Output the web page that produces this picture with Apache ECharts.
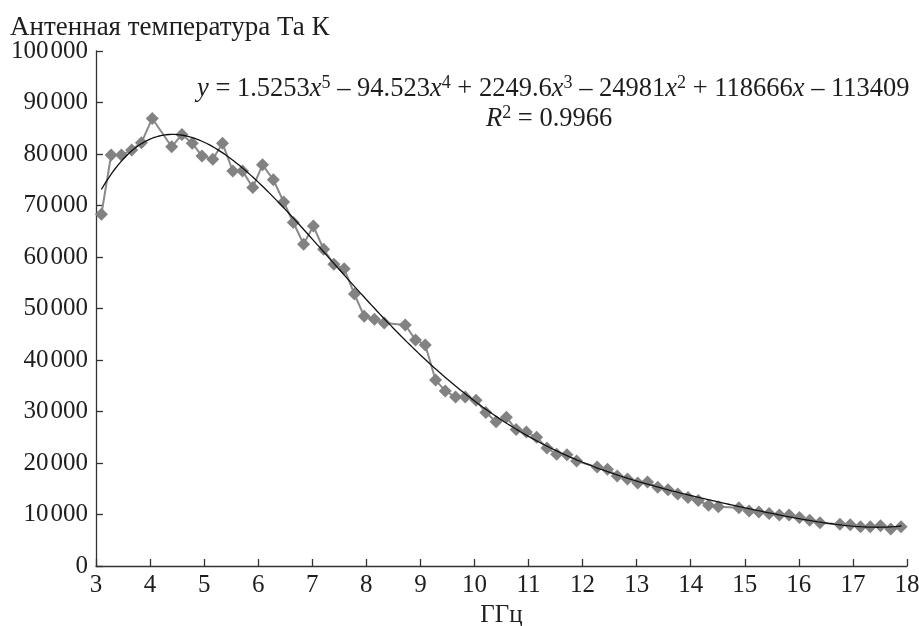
<!DOCTYPE html>
<html>
<head>
<meta charset="utf-8">
<script src="https://cdn.jsdelivr.net/npm/echarts@6/dist/echarts.min.js"></script>
<style>html,body{margin:0;padding:0;background:#fff}#c{width:919px;height:626px}</style>
</head>
<body>
<div id="c"></div>
<script>
// Frequency, GHz
const freq = [3.10,3.28,3.47,3.66,3.84,4.04,4.40,4.59,4.78,4.96,5.16,5.34,5.53,5.71,5.90,6.08,6.28,6.47,6.65,6.84,
  7.02,7.21,7.40,7.59,7.78,7.96,8.15,8.33,8.72,8.91,9.09,9.28,9.46,9.65,9.83,10.03,10.21,10.40,10.59,10.77,
  10.96,11.15,11.34,11.52,11.71,11.89,12.27,12.46,12.64,12.83,13.02,13.20,13.39,13.58,13.76,13.95,14.14,14.33,14.51,
  14.89,15.08,15.26,15.45,15.64,15.82,16.01,16.20,16.39,16.76,16.95,17.14,17.32,17.51,17.70,17.89];
// Antenna temperature Ta, K
const temp = [68300,79800,79800,80800,82200,86900,81400,83800,82100,79600,79000,82100,76700,76700,73500,77900,75000,70700,66700,62500,
  66000,61500,58600,57700,52800,48500,47900,47200,46800,43900,42900,36100,34000,32800,32800,32200,29800,28000,28900,26500,
  26000,25000,22900,21700,21600,20400,19200,18800,17500,16900,16100,16300,15300,14800,14000,13300,12700,11800,11500,
  11300,10700,10500,10200,9900,9900,9400,8900,8400,8100,8000,7600,7600,7800,7200,7600];
// Trend polynomial coefficients as printed on chart (x^5 ... x^0)
const trendCoef = [1.5253, -94.523, 2249.6, -24981, 118666, -113409];
const trendRange = [3.1, 17.9];

const pts = freq.map((f,i)=>[f,temp[i]]);
const trend = [];
for (let x = trendRange[0]; x <= trendRange[1] + 1e-9; x += 0.05) {
  let y = 0; for (const c of trendCoef) y = y*x + c;
  trend.push([x, y]);
}
const FONT = '"Liberation Serif", "DejaVu Serif", serif';
const INK = '#1e1e1e';
const chart = echarts.init(document.getElementById('c'));
const richEq = {
  i:{fontFamily:FONT,fontSize:26.5,fontStyle:'italic',fill:INK},
  s:{fontFamily:FONT,fontSize:18,fill:INK,padding:[0,0,13,0]}
};
chart.setOption({
  animation:false,
  backgroundColor:'#fff',
  textStyle:{fontFamily:FONT},
  grid:{left:96,right:12,top:51,bottom:60,containLabel:false,outerBoundsMode:'none'},
  xAxis:{type:'value',min:3,max:18,interval:1,
    name:'ГГц',nameLocation:'middle',nameGap:29,
    nameTextStyle:{fontFamily:FONT,fontSize:25,color:INK},
    axisLine:{lineStyle:{color:'#333',width:1.3}},
    axisTick:{inside:true,length:7,lineStyle:{color:'#333',width:1.3}},
    axisLabel:{fontFamily:FONT,fontSize:25,color:INK,margin:7},
    splitLine:{show:false}},
  yAxis:{type:'value',min:0,max:100000,interval:10000,
    axisLine:{show:true,lineStyle:{color:'#333',width:1.3}},
    axisTick:{show:true,inside:true,length:7,lineStyle:{color:'#333',width:1.3}},
    axisLabel:{fontFamily:FONT,fontSize:25,color:INK,margin:8,
      formatter:v=>{const s=String(v);return s.length>3?s.slice(0,s.length-3)+'\u200A'+s.slice(-3):s;}},
    splitLine:{show:false}},
  series:[
    {type:'line',data:pts,symbol:'diamond',symbolSize:13,
      itemStyle:{color:'#828282'},lineStyle:{color:'#8a8a8a',width:2},z:2},
    {type:'line',data:trend,symbol:'none',smooth:false,
      lineStyle:{color:'#111',width:1.3},z:3}
  ],
  graphic:[
    {type:'text',left:10,top:14,style:{text:'Антенная температура Та К',font:'27px '+FONT,fill:INK}},
    {type:'text',left:197,top:74,style:{
      text:'{i|y} = 1.5253{i|x}{s|5} – 94.523{i|x}{s|4} + 2249.6{i|x}{s|3} – 24981{i|x}{s|2} + 118666{i|x} – 113409',
      fill:INK,font:'26.5px '+FONT,rich:richEq}},
    {type:'text',left:486,top:104,style:{
      text:'{i|R}{s|2} = 0.9966',fill:INK,font:'26.5px '+FONT,rich:richEq}}
  ]
});
</script>
</body>
</html>
